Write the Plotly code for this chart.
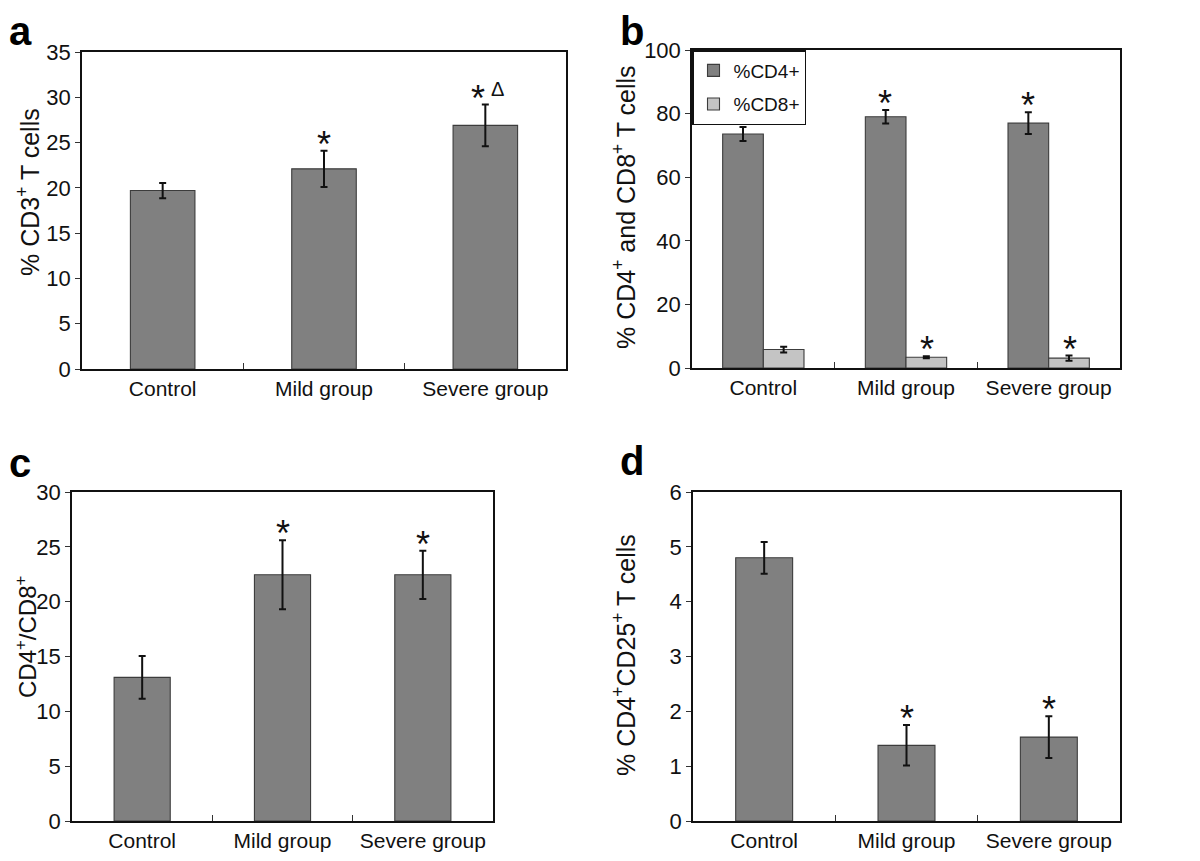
import plotly.graph_objects as go

# The page places the figure 8 px from the top-left corner of the window,
# so the figure is sized to fit the 1200x861 window and all reference
# pixel positions are shifted by that offset.
OFF = 8
W, H = 1200 - 2 * OFF, 861 - 2 * OFF

categories = ["Control", "Mild group", "Severe group"]

# Panel a
cd3_mean = [19.7, 22.1, 26.9]
cd3_err = [0.85, 2.0, 2.3]
cd3_marks = ["", "*", "*Δ"]

# Panel b
cd4_mean = [73.6, 79.0, 77.0]
cd4_err = [2.2, 2.1, 3.4]
cd8_mean = [5.8, 3.4, 3.1]
cd8_err = [0.9, 0.3, 0.8]
cd4_marks = ["", "*", "*"]
cd8_marks = ["", "*", "*"]

# Panel c
ratio_mean = [13.1, 22.45, 22.45]
ratio_err = [1.95, 3.15, 2.2]
ratio_marks = ["", "*", "*"]

# Panel d
treg_mean = [4.8, 1.38, 1.53]
treg_err = [0.29, 0.37, 0.38]
treg_marks = ["", "*", "*"]

DARK = "#808080"
LIGHT = "#c4c4c4"
FONT = "Liberation Sans, Arial, sans-serif"
TXT = "#111111"

# panel pixel boxes in window pixels: (left, right, top, bottom)
boxes = {
    "a": (82, 566, 52, 369),
    "b": (692, 1120, 50, 368),
    "c": (72, 493, 492, 821),
    "d": (693, 1120, 492, 821),
}


def px_x(px):
    return (px - OFF) / W


def px_y(py):
    return 1 - (py - OFF) / H


fig = go.Figure()


def dom(box):
    l, r, t, b = box
    return [px_x(l), px_x(r)], [px_y(b), px_y(t)]


def add_bar(xref, yref, y, err, color, width, offset=None, name=None, show=False):
    fig.add_trace(go.Bar(
        x=categories, y=y, xaxis=xref, yaxis=yref, width=width, offset=offset,
        marker=dict(color=color, line=dict(color="#3c3c3c", width=1.1)),
        error_y=dict(type="data", array=err, color=TXT, thickness=2, width=3.5),
        name=name, showlegend=show, legendgroup=name,
    ))


add_bar("x", "y", cd3_mean, cd3_err, DARK, 0.4)
add_bar("x2", "y2", cd4_mean, cd4_err, DARK, 0.285, offset=-0.285, name="%CD4+", show=True)
add_bar("x2", "y2", cd8_mean, cd8_err, LIGHT, 0.285, offset=0.0, name="%CD8+", show=True)
add_bar("x3", "y3", ratio_mean, ratio_err, DARK, 0.4)
add_bar("x4", "y4", treg_mean, treg_err, DARK, 0.4)

axis_titles = {
    "a": "% CD3<sup>+</sup> T cells",
    "b": "% CD4<sup>+</sup> and CD8<sup>+</sup> T cells",
    "c": "CD4<sup>+</sup>/CD8<sup>+</sup>",
    "d": "% CD4<sup>+</sup>CD25<sup>+</sup> T cells",
}
# title centre positions in window pixels
title_pos = {"a": (28, 192), "b": (624, 207), "c": (26, 637), "d": (624, 655)}
yranges = {"a": (0, 35, 5), "b": (0, 100, 20), "c": (0, 30, 5), "d": (0, 6, 1)}

layout = {}
for i, k in enumerate(["a", "b", "c", "d"]):
    sfx = "" if i == 0 else str(i + 1)
    xd, yd = dom(boxes[k])
    lo, hi, dt = yranges[k]
    layout["xaxis" + sfx] = dict(
        domain=xd, anchor="y" + sfx, type="category", range=[-0.5, 2.5],
        showline=True, linecolor=TXT, linewidth=1.5, mirror=True,
        ticks="inside", tickson="boundaries", ticklen=6, tickcolor="#333333",
        showgrid=False, tickangle=0, automargin=False,
        tickfont=dict(family=FONT, size=21, color=TXT),
    )
    layout["yaxis" + sfx] = dict(
        domain=yd, anchor="x" + sfx, range=[lo, hi], dtick=dt,
        showline=True, linecolor=TXT, linewidth=1.5, mirror=True,
        ticks="outside", ticklen=5, tickcolor="#333333",
        showgrid=False, zeroline=False, automargin=False,
        tickfont=dict(family=FONT, size=22, color=TXT),
    )

fig.update_layout(
    **layout,
    width=W, height=H,
    margin=dict(l=0, r=0, t=0, b=0, pad=0, autoexpand=False),
    paper_bgcolor="white", plot_bgcolor="white",
    barmode="group",
    showlegend=True,
    legend=dict(
        x=px_x(boxes["b"][0]), y=px_y(boxes["b"][2]), xanchor="left", yanchor="top",
        bgcolor="white", bordercolor=TXT, borderwidth=1.5,
        font=dict(family=FONT, size=19, color=TXT),
        tracegroupgap=6, itemwidth=30,
    ),
)

annotations = []

for k, (px, py) in title_pos.items():
    annotations.append(dict(
        x=px_x(px), y=px_y(py), xref="paper", yref="paper", text=axis_titles[k],
        textangle=-90, showarrow=False, xanchor="center", yanchor="middle",
        font=dict(family=FONT, size=24 if k == "c" else 25, color=TXT),
    ))


def add_marks(xref, yref, means, errs, marks, offset_px=0):
    for c, m, e, t in zip(categories, means, errs, marks):
        if not t:
            continue
        star_shift = offset_px - 7 if "Δ" in t else offset_px
        annotations.append(dict(
            x=c, y=m + e, xref=xref, yref=yref, text="*", showarrow=False,
            yanchor="bottom", yshift=-16, xshift=star_shift,
            font=dict(family=FONT, size=36, color=TXT),
        ))
        if "Δ" in t:
            annotations.append(dict(
                x=c, y=m + e, xref=xref, yref=yref, text="Δ", showarrow=False,
                yanchor="bottom", yshift=3, xshift=offset_px + 12,
                font=dict(family=FONT, size=20, color=TXT),
            ))


add_marks("x", "y", cd3_mean, cd3_err, cd3_marks)
add_marks("x2", "y2", cd4_mean, cd4_err, cd4_marks, offset_px=-21)
add_marks("x2", "y2", cd8_mean, cd8_err, cd8_marks, offset_px=21)
add_marks("x3", "y3", ratio_mean, ratio_err, ratio_marks)
add_marks("x4", "y4", treg_mean, treg_err, treg_marks)

# panel letters: (window x of left edge, window y, y anchor)
labels = {"a": (8, 8, "top"), "b": (619, 8, "top"), "c": (8, 463, "middle"), "d": (619, 461, "middle")}
for k, (px, py, ya) in labels.items():
    annotations.append(dict(
        x=px_x(px), y=px_y(py), xref="paper", yref="paper", text="<b>%s</b>" % k,
        showarrow=False, xanchor="left", yanchor=ya, borderpad=0,
        font=dict(family=FONT, size=40, color="black"),
    ))

fig.update_layout(annotations=annotations)

fig.write_html("out.html")
